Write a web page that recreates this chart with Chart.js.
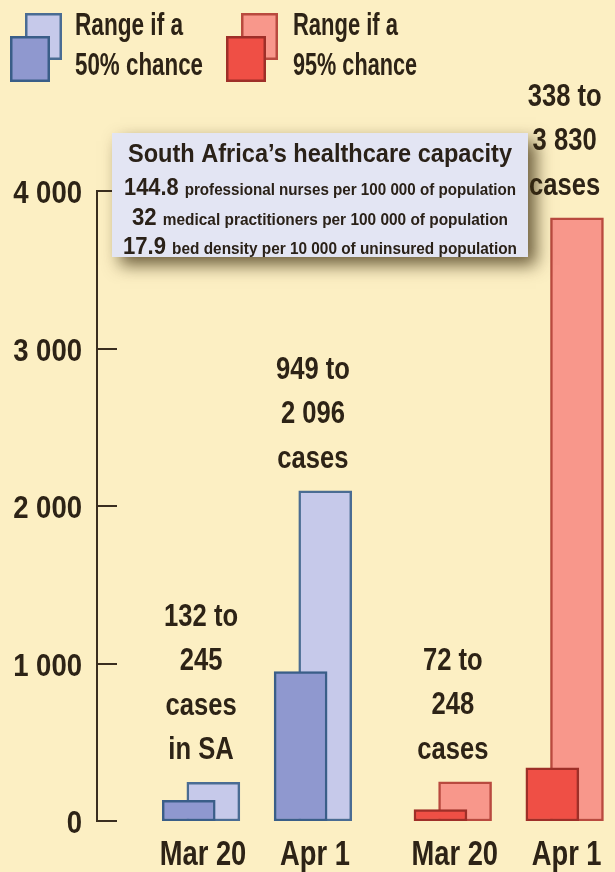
<!DOCTYPE html>
<html>
<head>
<meta charset="utf-8">
<script src="https://cdn.jsdelivr.net/npm/chart.js@4"></script>
<style>
  html, body { margin: 0; padding: 0; background: #fcefc3; }
  #wrap { width: 615px; height: 872px; }
</style>
</head>
<body>
<div id="wrap"><canvas id="casesChart"></canvas></div>
<script>
const dates = ['Mar 20', 'Apr 1'];
const low50 = [132, 949];
const high50 = [245, 2096];
const low95 = [72, 338];
const high95 = [248, 3830];
const yTicks = [0, 1000, 2000, 3000, 4000];
const capacity = [
    ['144.8', 'professional nurses per 100 000 of population'],
    ['32', 'medical practitioners per 100 000 of population'],
    ['17.9', 'bed density per 10 000 of uninsured population']
];

// where each date pair sits on the x axis (a wider gap between the two scenarios)
const slots50 = [0, 1];
const slots95 = [2.25, 3.25];
const PAIR_SHIFT = 0.11;

const FONT = '"Liberation Sans", Arial, sans-serif';
const INK = '#2d2316';
const BG = '#fcefc3';

const BLUE = { light: '#c6c9ea', lightEdge: '#4a6c93', dark: '#8f98cf', darkEdge: '#3a5e88' };
const RED = { light: '#f8978b', lightEdge: '#b94a3f', dark: '#ef4f45', darkEdge: '#9e2f28' };

function fmt(n) {
    return String(n).replace(/\B(?=(\d{3})+(?!\d))/g, ' ');
}

function points(slots, values, shift) {
    return slots.map((s, i) => ({ x: s + shift, y: values[i] }));
}

// draws text runs side by side, condensed horizontally; either fitted to a
// width or squeezed by a factor. anchor is 'center' or 'right'
function drawRuns(ctx, runs, x, baseline, opts) {
    let total = 0;
    runs.forEach(r => {
        ctx.font = r.font;
        r.w = ctx.measureText(r.text).width;
        total += r.w;
    });
    const sx = opts.width ? opts.width / total : (opts.squeeze || 1);
    const start = opts.anchor === 'right' ? x - total * sx : x - total * sx / 2;
    ctx.save();
    ctx.textAlign = 'left';
    ctx.textBaseline = 'alphabetic';
    ctx.translate(start, baseline);
    ctx.scale(sx, 1);
    let cx = 0;
    runs.forEach(r => {
        ctx.font = r.font;
        ctx.fillText(r.text, cx, 0);
        cx += r.w;
    });
    ctx.restore();
}

const barStyle = {
    borderWidth: 2.5,
    borderSkipped: false,
    barThickness: 53,
    grouped: false
};

const background = {
    id: 'background',
    beforeDraw(chart) {
        const ctx = chart.ctx;
        ctx.save();
        ctx.fillStyle = BG;
        ctx.fillRect(0, 0, chart.width, chart.height);
        ctx.restore();
    }
};

// axis labels in a condensed face, plus short ticks pointing into the plot
const axisText = {
    id: 'axisText',
    afterDraw(chart) {
        const ctx = chart.ctx;
        const xs = chart.scales.x;
        const ys = chart.scales.y;
        const left = chart.chartArea.left;
        ctx.save();
        ctx.strokeStyle = '#3a2e1f';
        ctx.lineWidth = 2;
        ctx.fillStyle = INK;
        ys.ticks.forEach(t => {
            const py = Math.round(ys.getPixelForValue(t.value));
            ctx.beginPath();
            ctx.moveTo(left - 1, py);
            ctx.lineTo(left + 20, py);
            ctx.stroke();
            drawRuns(ctx, [{ text: fmt(t.value), font: 'bold 32px ' + FONT }], left - 15, py + 12,
                { squeeze: 0.86, anchor: 'right' });
        });
        xs.ticks.forEach((t, i) => {
            const px = xs.getPixelForValue(t.value);
            drawRuns(ctx, [{ text: dates[i % dates.length], font: 'bold 35px ' + FONT }], px + 2, 865,
                { squeeze: 0.78 });
        });
        ctx.restore();
    }
};

// "x to y cases" stacked above each pair
const rangeLabels = {
    id: 'rangeLabels',
    afterDatasetsDraw(chart) {
        const ctx = chart.ctx;
        const xs = chart.scales.x;
        const ys = chart.scales.y;
        const groups = [];
        slots50.forEach((s, i) => groups.push({ slot: s, low: low50[i], high: high50[i], extra: i === 0 ? 'in SA' : null }));
        slots95.forEach((s, i) => groups.push({ slot: s, low: low95[i], high: high95[i], extra: null }));
        ctx.save();
        ctx.fillStyle = INK;
        groups.forEach(g => {
            const lines = [fmt(g.low) + ' to', fmt(g.high), 'cases'];
            if (g.extra) lines.push(g.extra);
            const cx = xs.getPixelForValue(g.slot);
            const top = ys.getPixelForValue(g.high);
            const lastBase = top - 23;
            lines.forEach((t, i) => {
                const base = lastBase - (lines.length - 1 - i) * 44.5;
                drawRuns(ctx, [{ text: t, font: 'bold 32px ' + FONT }], cx, base, { squeeze: 0.8 });
            });
        });
        ctx.restore();
    }
};

function drawKey(ctx, x, y, c) {
    ctx.lineWidth = 2.5;
    ctx.fillStyle = c.light;
    ctx.strokeStyle = c.lightEdge;
    ctx.fillRect(x + 15, y, 37, 47);
    ctx.strokeRect(x + 16.25, y + 1.25, 34.5, 44.5);
    ctx.fillStyle = c.dark;
    ctx.strokeStyle = c.darkEdge;
    ctx.fillRect(x, y + 23, 40, 46);
    ctx.strokeRect(x + 1.25, y + 24.25, 37.5, 43.5);
}

const keyAndBox = {
    id: 'keyAndBox',
    afterDraw(chart) {
        const ctx = chart.ctx;
        ctx.save();

        // legend
        drawKey(ctx, 10, 13, BLUE);
        drawKey(ctx, 226, 13, RED);
        ctx.fillStyle = INK;
        const lf = 'bold 31px ' + FONT;
        drawRuns(ctx, [{ text: 'Range if a', font: lf }], 75 + 54, 35, { width: 108 });
        drawRuns(ctx, [{ text: '50% chance', font: lf }], 75 + 64, 75, { width: 128 });
        drawRuns(ctx, [{ text: 'Range if a', font: lf }], 293 + 52.5, 35, { width: 105 });
        drawRuns(ctx, [{ text: '95% chance', font: lf }], 293 + 62, 75, { width: 124 });

        // healthcare capacity box
        const bx = 112, by = 133, bw = 416, bh = 124;
        ctx.save();
        ctx.shadowColor = 'rgba(60, 45, 15, 0.75)';
        ctx.shadowBlur = 16;
        ctx.shadowOffsetX = 8;
        ctx.shadowOffsetY = 8;
        ctx.fillStyle = '#e3e5f3';
        ctx.fillRect(bx, by, bw, bh);
        ctx.restore();

        const cx = bx + bw / 2;
        ctx.fillStyle = '#2a2118';
        drawRuns(ctx, [{ text: 'South Africa\u2019s healthcare capacity', font: 'bold 25px ' + FONT }], cx, 162, { width: 384 });
        const widths = [392, 376, 394];
        const bases = [195, 225, 254];
        capacity.forEach((row, i) => {
            drawRuns(ctx, [
                { text: row[0] + ' ', font: 'bold 23px ' + FONT },
                { text: row[1], font: 'bold 16px ' + FONT }
            ], cx, bases[i], { width: widths[i] });
        });

        ctx.restore();
    }
};

new Chart(document.getElementById('casesChart'), {
    type: 'bar',
    data: {
        datasets: [
            Object.assign({ label: '50% chance, upper', data: points(slots50, high50, PAIR_SHIFT),
                backgroundColor: BLUE.light, borderColor: BLUE.lightEdge, order: 1 }, barStyle),
            Object.assign({ label: '95% chance, upper', data: points(slots95, high95, PAIR_SHIFT),
                backgroundColor: RED.light, borderColor: RED.lightEdge, order: 1 }, barStyle),
            Object.assign({ label: '50% chance, lower', data: points(slots50, low50, -PAIR_SHIFT),
                backgroundColor: BLUE.dark, borderColor: BLUE.darkEdge, order: 0 }, barStyle),
            Object.assign({ label: '95% chance, lower', data: points(slots95, low95, -PAIR_SHIFT),
                backgroundColor: RED.dark, borderColor: RED.darkEdge, order: 0 }, barStyle)
        ]
    },
    options: {
        responsive: true,
        maintainAspectRatio: false,
        animation: false,
        layout: { padding: { top: 191, right: 0, bottom: 0, left: 0 } },
        scales: {
            x: {
                type: 'linear',
                min: -0.93,
                max: 3.7,
                offset: false,
                border: { display: false },
                grid: { display: false, drawTicks: false },
                afterBuildTicks: s => {
                    s.ticks = slots50.concat(slots95).map(v => ({ value: v }));
                },
                afterFit: s => { s.height = 51; },
                ticks: { display: false }
            },
            y: {
                min: 0,
                max: 4000,
                border: { display: true, color: '#3a2e1f', width: 2 },
                grid: { display: false, drawTicks: false },
                afterBuildTicks: s => {
                    s.ticks = yTicks.map(v => ({ value: v }));
                },
                afterFit: s => { s.width = 97; },
                ticks: { display: false }
            }
        },
        plugins: {
            legend: { display: false },
            tooltip: { enabled: false }
        }
    },
    plugins: [background, axisText, rangeLabels, keyAndBox]
});
</script>
</body>
</html>
